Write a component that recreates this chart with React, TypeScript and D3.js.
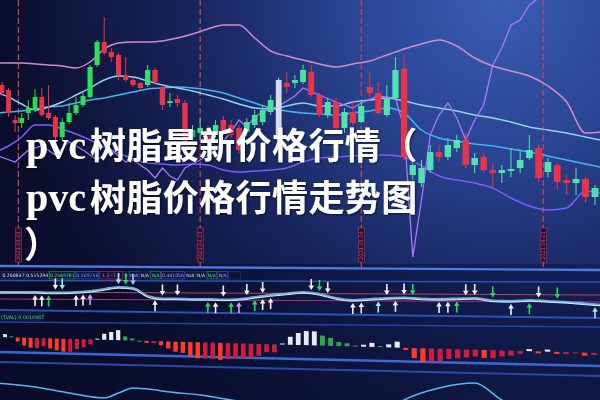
import React, { useEffect } from "react";
import * as d3 from "d3";

// ---------- DATA ----------
const OPEN = [6828,6748,6708,6728,6768,6812,6740,6728,6652,6712,6748,6780,6816,6932,7032,6988,6972,6900,6880,6860,6848,6920,6872,6780,6796,6788,6632,6680,6688,6640,6700,6680,6660,6600,6712,6740,6760,6800,6880,6852,6880,6920,6820,6740,6792,6688,6752,6708,6776,6828,6748,6808,6920,6572,6540,6528,6592,6572,6620,6640,6540,6568,6520,6508,6520,6524,6560,6600,6488,6552,6472,6468,6484,6412,6448];
const CLOSE = [6860,6840,6720,6708,6748,6760,6812,6748,6732,6652,6712,6748,6780,6812,6940,7032,6992,6980,6896,6880,6868,6860,6920,6852,6788,6804,6788,6652,6668,6680,6660,6720,6700,6688,6672,6700,6712,6752,6640,6868,6868,6872,6912,6820,6740,6792,6688,6752,6712,6852,6828,6740,6808,6924,6500,6468,6520,6592,6572,6608,6640,6540,6572,6520,6508,6516,6528,6568,6608,6512,6540,6480,6468,6484,6412];
const HIGH = [6872,6848,6740,6748,6800,6844,6848,6860,6740,6728,6788,6812,6832,6940,7040,7132,7008,6988,6972,6888,6872,6940,6928,6860,6828,6820,6800,6700,6728,6696,6720,6736,6720,6700,6728,6760,6780,6820,6888,6912,6900,6940,6940,6828,6808,6808,6768,6800,6792,6912,6872,6860,6972,6980,6568,6560,6620,6620,6648,6660,6668,6588,6588,6548,6540,6608,6600,6660,6620,6568,6552,6500,6528,6492,6460];
const LOW = [6816,6732,6672,6688,6720,6752,6732,6720,6640,6640,6704,6740,6772,6808,6932,6980,6952,6880,6872,6852,6840,6852,6860,6760,6772,6772,6620,6640,6640,6624,6648,6668,6648,6588,6656,6688,6700,6740,6632,6828,6848,6864,6812,6732,6728,6680,6668,6700,6708,6812,6740,6732,6800,6560,6480,6452,6508,6552,6560,6592,6528,6508,6512,6448,6468,6492,6508,6560,6472,6492,6440,6420,6420,6388,6380];
const HIGHLIGHT_INDEX = 38;

const LINE_IDX = [-1,1,3,5,7,9,11,13,15,17,19,21,23,25,27,29,31,33,35,37,39,41,43,45,47,49,51,53,55,57,59,61,63,65,67,69,71,73,75];
const UPPER_BAND = [6948,6948,6948,6944,6940,6936,6928,6952,7004,7028,7032,7032,7036,7048,7064,7084,7100,7100,7048,6996,6976,6960,6944,6932,6944,6956,6980,7004,7024,7040,7016,6968,6936,6916,6896,6856,6792,6668,6672];
const MID_LINE_A = [6832,6812,6784,6760,6772,6792,6820,6848,6880,6896,6892,6876,6860,6848,6836,6820,6804,6784,6768,6764,6776,6788,6776,6776,6792,6800,6808,6796,6780,6768,6756,6740,6728,6712,6692,6680,6668,6652,6636];
const MID_LINE_B = [6748,6752,6756,6764,6772,6776,6788,6800,6808,6820,6832,6844,6848,6852,6848,6840,6828,6808,6788,6768,6756,6748,6744,6740,6748,6756,6768,6748,6680,6648,6636,6624,6616,6604,6592,6576,6560,6544,6528];
const LOWER_BAND = [6592,6616,6652,6700,6700,6684,6664,6640,6612,6588,6564,6548,6544,6540,6544,6540,6520,6512,6516,6520,6528,6552,6568,6572,6576,6580,6580,6572,6536,6496,6480,6468,6448,6408,6376,6360,6368,6436,6424];

const OSC_IDX = [-1,2,4,6,8,10,12,14,16,18,19,21,22,23,24,25,26,28,30,32,33,34,35,36,38,40,41,43,45,47,48,50,52,53,54,55,56,57,58,59,60,61,62,63,64,65,66,67,68,70];
const OSC_LINE = [6580,6552,6600,6616,6580,6632,6600,6560,6600,6552,6560,6520,6488,6528,6496,6480,6528,6560,6600,6672,6720,6692,6732,6752,6776,6816,6848,6820,6792,6768,6788,6816,6808,6688,6172,6400,6660,6740,6788,6728,6640,6720,6780,6940,7008,7100,7120,7180,7208,7220];

const DATE_SEP_IDX = [2.5, 28, 48, 68.5];
const DATE_LABELS = ["2023.03.01", "2023.04.03", "2023.05.04", "2023.06.01"];

const INFO_LABELS = ["0.260847","0.515294","0.2549281","0.509756","1.2 -1.2","0","N/A","N/A","N/A","0.441056","N/A","N/A","N/A","N/A",""];
const INFO_TONES = ["plain","plain","green","blue","red","plain","cyan","plain","green","violet","plain","plain","green","violet","plain"];
const PANEL2_LABEL = "(TVAL) 0.0010987";

const SIGNAL = [0.4,0.4,0.4,0.4,0.35,0.35,0.4,0.5,0.7,0.9,0.8,0,-0.25,-0.25,-0.3,-0.3,-0.35,-0.3,-0.1,0.1,0.25,0.4,0.2,-0.2,-0.4,-0.3,-0.2,-0.15,-0.25,-0.3,-0.25,-0.2,-0.45,-0.5,-0.4,-0.5,-0.6,-0.75,-0.9];
const SIGNAL_LEVELS = [0.4, -0.3];

const ARROW_IDX = [5,6,7,8,9,11,12,13,17,18,19,22,23,25,29,30,31,32,33,34,35,36,36,37,42,43,44,47,48,50,51,52,53,54,57,58,59,60,61,63,65,67,68,70,74];
const ARROW_DIR = ["up","up","up","down","down","up","up","up","down","down","down","up","down","down","up","up","down","up","up","down","up","down","up","up","down","down","down","up","up","up","down","up","down","down","up","up","up","down","down","down","up","up","down","down","up"];
const ARROW_TYPE = ["w","w","g","w","c","w","w","v","c","g","v","w","w","w","g","w","w","g","v","w","g","w","w","w","w","g","w","w","w","c","w","w","w","g","w","w","g","w","w","g","w","g","w","g","c"];

const MACD = [0.003,0.001,-0.004,-0.008,-0.010,-0.010,-0.008,-0.010,-0.012,-0.013,-0.013,-0.010,-0.008,-0.005,0.001,0.006,0.008,0.010,0.004,0.002,0,-0.002,-0.002,-0.004,-0.007,-0.010,-0.011,-0.014,-0.016,-0.016,-0.016,-0.017,-0.016,-0.015,-0.015,-0.014,-0.012,-0.008,-0.008,0.001,0.008,0.012,0.014,0.014,0.010,0.008,0.004,0.003,0.001,0.002,0.004,0.001,0.003,0.006,-0.002,-0.010,-0.014,-0.013,-0.013,-0.010,-0.009,-0.008,-0.007,-0.008,-0.008,-0.006,-0.005,-0.003,0.002,-0.002,0.002,-0.002,-0.002,-0.001,-0.003,-0.002];

const BOT_IDX = [-1,5,10,15,17,19,21,24,28,32,36,52,53,57,61,64,66];
const BOT_VAL = [17,13,7,2,7,12,11,8,5,0,-5,-5,0,12,17,0,-8];

const TITLE_LATIN = ["pvc", "pvc", ""];
const TITLE_CJK = ["树脂最新价格行情（", "树脂价格行情走势图", "）"];

// ---------- STYLE ----------
const RED = "#ec3248";
const WHITE_CANDLE = "#d9dce8";
const ARROW_COLORS: Record<string, string> = { w: "#eef0f8", g: "#2fd65a", v: "#c8a6ff", c: "#a0e6f6" };
const TONE: Record<string, [string, string]> = {
  plain: ["#d8e0f0", "none"],
  green: ["#4be06a", "#2a8a3a"],
  blue: ["#7a98ff", "#3656c8"],
  red: ["#ff6878", "#a02838"],
  cyan: ["#8fd0ff", "#2a4a90"],
  violet: ["#b496ff", "#5a40b0"],
};

export default function App() {
  useEffect(() => {
    document.body.style.margin = "0";
    document.body.style.background = "#0a0f30";
  }, []);

  const W = 600, H = 400;
  const X_OFF = 160;
  const xs = d3.scalePow().exponent(2).domain([X_OFF, X_OFF + 74]).range([2, 595]);
  const xc = (i: number) => xs(i + X_OFF);
  const step = (i: number) => xc(i + 0.5) - xc(i - 0.5);
  const y = d3.scaleLinear().domain([7200, 6120]).range([0, 270]);
  const greenAt = d3.scaleLinear<string>().domain([0, 330]).range(["#1fe03a", "#4fe2b2"]).clamp(true);

  const lineOn = (idx: number[], curve: d3.CurveFactory) =>
    d3.line<number>().x((_, k) => xc(idx[k])).y((v) => y(v)).curve(curve);
  const smooth = lineOn(LINE_IDX, d3.curveMonotoneX);
  const jag = lineOn(OSC_IDX, d3.curveLinear);

  const ySig = d3.scaleLinear().domain([1, -1]).range([286, 306]);
  const sigAt = d3.scaleLinear().domain(LINE_IDX).range(SIGNAL);
  const sigLine = d3.line<number>().x((_, k) => xc(LINE_IDX[k])).y((v) => ySig(v)).curve(d3.curveMonotoneX);

  const H_OFF = 153;
  const xh = d3.scalePow().exponent(2).domain([H_OFF, H_OFF + 75]).range([5, 594]);
  const yh = d3.scaleLinear().domain([-0.02, 0.02]).range([20, -20]);

  const yBot = d3.scaleLinear().domain([0, 20]).range([400, 380]);
  const botLine = d3.line<number>().x((_, k) => xc(BOT_IDX[k])).y((v) => yBot(v)).curve(d3.curveMonotoneX);

  const separators = [
    { y0: 266, y1: 270, c: "#4a7ae8", w: 2.4 },
    { y0: 280.5, y1: 282, c: "#2c52b8", w: 1.4 },
    { y0: 310, y1: 318, c: "#2c52b8", w: 2 },
    { y0: 322, y1: 327, c: "#24449c", w: 1.4 },
    { y0: 352, y1: 366, c: "#3a68d8", w: 2.4 },
    { y0: 362, y1: 376, c: "#2a4aa8", w: 1.8 },
  ];

  let cursor = 2;
  const infoItems = INFO_LABELS.map((t, k) => {
    const w = t.length ? t.length * 2.6 + 2 : 12;
    const item = { t, x: cursor, w, tone: INFO_TONES[k] };
    cursor += w + 1;
    return item;
  });

  const arrowPath = (cx: number, tip: number, up: boolean) => {
    const s = up ? 1 : -1;
    return `M${cx},${tip} L${cx - 2.8},${tip + 4.5 * s} L${cx - 0.8},${tip + 4.5 * s} L${cx - 0.8},${tip + 11 * s} L${cx + 0.8},${tip + 11 * s} L${cx + 0.8},${tip + 4.5 * s} L${cx + 2.8},${tip + 4.5 * s} Z`;
  };

  return (
    <svg width={W} height={H} viewBox={`0 0 ${W} ${H}`} style={{ position: "absolute", left: 0, top: 0, display: "block" }}>
      <defs>
        <radialGradient id="bg" gradientUnits="userSpaceOnUse" cx={500} cy={0} r={500}>
          <stop offset="0" stopColor="#3a5db2" />
          <stop offset="0.3" stopColor="#2a4593" />
          <stop offset="0.6" stopColor="#18265f" />
          <stop offset="1" stopColor="#0a0e2c" />
        </radialGradient>
        <linearGradient id="lowerShade" x1="0" y1="0" x2="1" y2="0">
          <stop offset="0" stopColor="#070b26" stopOpacity="0.75" />
          <stop offset="1" stopColor="#0b1440" stopOpacity="0.45" />
        </linearGradient>
        <filter id="soft" x="-5%" y="-5%" width="110%" height="110%">
          <feGaussianBlur stdDeviation="0.35" />
        </filter>
        <filter id="shadow" x="-5%" y="-10%" width="110%" height="130%">
          <feDropShadow dx="1" dy="1" stdDeviation="1.2" floodColor="#000010" floodOpacity="0.6" />
        </filter>
        <clipPath id="mainClip">
          <rect x={0} y={0} width={W} height={264} />
        </clipPath>
        <clipPath id="fullClip">
          <rect x={0} y={0} width={W} height={H} />
        </clipPath>
      </defs>

      <rect x={0} y={0} width={W} height={H} fill="url(#bg)" />
      <rect x={0} y={264} width={W} height={H - 264} fill="url(#lowerShade)" />

      <g filter="url(#soft)" clipPath="url(#fullClip)">
        {DATE_SEP_IDX.map((i, k) => {
          const px = xc(i);
          return (
            <g key={`sep${k}`}>
              <line x1={px} x2={px} y1={0} y2={268} stroke="#c0405e" strokeWidth={1.3} strokeDasharray="6 3" />
              <rect x={px - 3} y={228} width={6} height={34} fill="#2a1030" stroke="#b03a58" strokeWidth={0.6} />
              <text transform={`translate(${px + 1.8},260) rotate(-90)`} fontSize={5} fill="#e05070" fontFamily="DejaVu Sans, sans-serif">
                {DATE_LABELS[k]}
              </text>
            </g>
          );
        })}

        <g clipPath="url(#mainClip)">
          <path d={smooth(UPPER_BAND) || ""} fill="none" stroke="#d18cc8" strokeWidth={1.5} />
          <path d={smooth(LOWER_BAND) || ""} fill="none" stroke="#7a5cff" strokeWidth={1.5} />
          <path d={smooth(MID_LINE_B) || ""} fill="none" stroke="#3fb6f2" strokeWidth={1.5} />
          <path d={smooth(MID_LINE_A) || ""} fill="none" stroke="#92d2f6" strokeWidth={1.4} />
          <path d={jag(OSC_LINE) || ""} fill="none" stroke="#a878ff" strokeWidth={1.3} />

          {OPEN.map((o, i) => {
            const c = CLOSE[i];
            const cx = xc(i);
            const bw = step(i) * 0.72;
            const up = c > o;
            const color = i === HIGHLIGHT_INDEX ? WHITE_CANDLE : up ? RED : greenAt(cx);
            const top = y(Math.max(o, c));
            const bot = y(Math.min(o, c));
            return (
              <g key={`c${i}`}>
                <line x1={cx} x2={cx} y1={y(HIGH[i])} y2={y(LOW[i])} stroke={color} strokeWidth={1} />
                <rect x={cx - bw / 2} y={top} width={bw} height={Math.max(1.2, bot - top)} fill={color} />
              </g>
            );
          })}
        </g>

        <rect x={0} y={271} width={244} height={8.5} fill="#0a1236" />
        {infoItems.map((it, k) => {
          const [tc, bc] = TONE[it.tone];
          return (
            <g key={`info${k}`}>
              <rect x={it.x} y={271.5} width={it.w} height={7.5} fill={bc === "none" ? "none" : "#0c1540"} stroke={bc === "none" ? "#1e2f70" : bc} strokeWidth={0.7} />
              <text x={it.x + it.w / 2} y={277.3} textAnchor="middle" fontSize={4.6} fill={tc} fontFamily="DejaVu Sans, sans-serif">
                {it.t}
              </text>
            </g>
          );
        })}

        {separators.map((s, k) => (
          <line key={`ps${k}`} x1={0} x2={W} y1={s.y0} y2={s.y1} stroke={s.c} strokeWidth={s.w} />
        ))}

        {SIGNAL_LEVELS.map((lv, k) => (
          <line key={`lv${k}`} x1={0} x2={W} y1={ySig(lv)} y2={ySig(lv) + 3} stroke={k === 0 ? "#c04058" : "#b0307a"} strokeWidth={1.2} />
        ))}
        <path d={sigLine(SIGNAL) || ""} fill="none" stroke="#78cff0" strokeWidth={2.2} opacity={0.85} />
        <path d={sigLine(SIGNAL) || ""} fill="none" stroke="#e4f2ff" strokeWidth={1} transform="translate(0,1.2)" />
        {ARROW_IDX.map((i, k) => {
          const up = ARROW_DIR[k] === "up";
          const base = ySig(sigAt(i));
          const tip = up ? base + 3 : base - 3;
          return <path key={`a${k}`} d={arrowPath(xc(i), tip, up)} fill={ARROW_COLORS[ARROW_TYPE[k]]} />;
        })}

        <rect x={0} y={313} width={44} height={7} fill="#0a1236" stroke="#1e2f70" strokeWidth={0.6} />
        <text x={1} y={318.6} fontSize={4.8} fill="#4be06a" fontFamily="DejaVu Sans, sans-serif">
          {PANEL2_LABEL}
        </text>

        <g transform="translate(0,337) skewY(1.53)">
          {MACD.map((v, k) => {
            const prev = k > 0 ? MACD[k - 1] : v;
            const rising = v >= prev;
            const color = v >= 0 ? (rising ? "#e8ecf4" : "#2fa84a") : rising ? "#cf1c3c" : "#ff3a26";
            const cx = xh(k + H_OFF);
            const bw = (xh(k + H_OFF + 0.5) - xh(k + H_OFF - 0.5)) * 0.6;
            const y0 = yh(0), y1 = yh(v);
            return <rect key={`h${k}`} x={cx - bw / 2} y={Math.min(y0, y1)} width={bw} height={Math.max(1, Math.abs(y1 - y0))} fill={color} />;
          })}
        </g>

        <path d={botLine(BOT_VAL) || ""} fill="none" stroke="#5ab6f0" strokeWidth={1.5} />
      </g>

      <g filter="url(#shadow)" fill="#ffffff">
        {TITLE_CJK.map((t, k) => {
          const base = [159, 211, 258][k];
          return (
            <text key={`t${k}`} y={base} fontSize={36} fontWeight={700} fontFamily="'Noto Sans CJK SC', sans-serif">
              {TITLE_LATIN[k] ? (
                <tspan x={26} fontFamily="'Liberation Serif', serif" fontWeight={700} fontSize={40}>
                  {TITLE_LATIN[k]}
                </tspan>
              ) : null}
              <tspan x={TITLE_LATIN[k] ? 90 : 24} style={{ letterSpacing: "0.4px" }}>
                {t}
              </tspan>
            </text>
          );
        })}
      </g>
    </svg>
  );
}
